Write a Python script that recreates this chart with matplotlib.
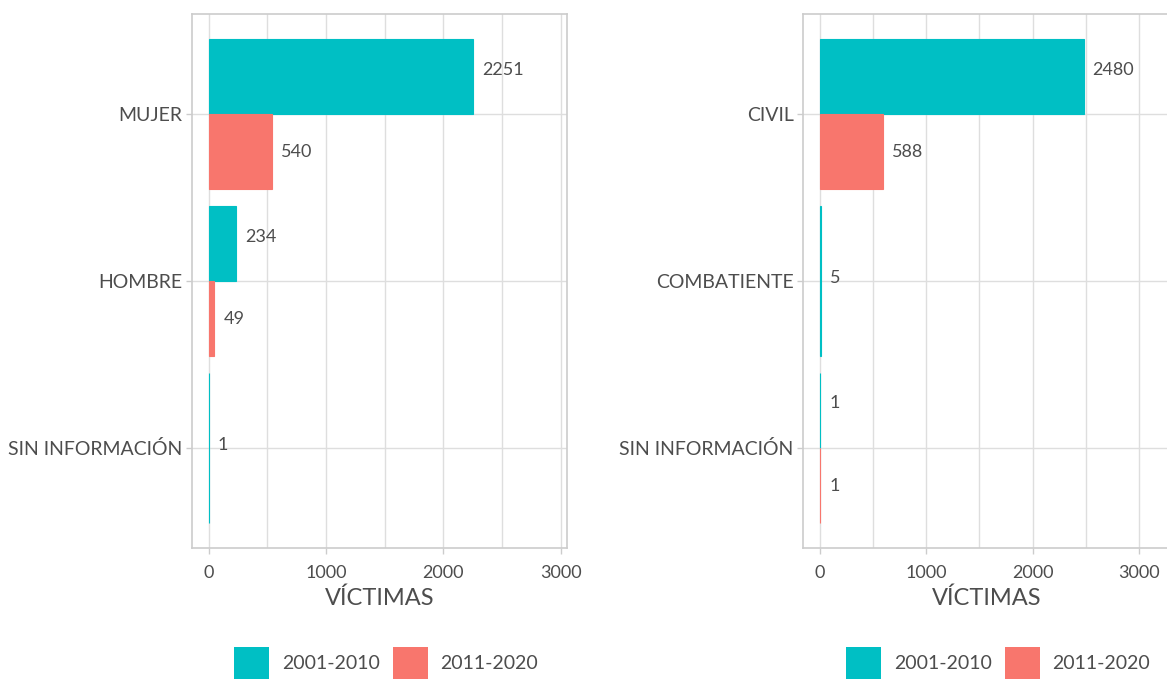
import matplotlib
matplotlib.use("Agg")
import matplotlib.pyplot as plt
from matplotlib.patches import Patch
from matplotlib.ticker import MultipleLocator

plt.rcParams['font.family'] = ['Lato', 'DejaVu Sans']

# Victims by sex and by condition, two decades
periods = ["2001-2010", "2011-2020"]
colors = ["#00BFC4", "#F8766D"]

sexo_cats = ["MUJER", "HOMBRE", "SIN INFORMACIÓN"]
sexo_2001 = [2251, 234, 1]
sexo_2011 = [540, 49, None]

cond_cats = ["CIVIL", "COMBATIENTE", "SIN INFORMACIÓN"]
cond_2001 = [2480, 5, 1]
cond_2011 = [588, None, 1]

TEXT = "#4D4D4D"
GRID = "#DEDEDE"
BORDER = "#CCCCCC"

W, H = 1167, 679
fig = plt.figure(figsize=(W / 100, H / 100), dpi=100)


def panel(rect, cats, s1, s2, xlim):
    ax = fig.add_axes(rect)
    n = len(cats)
    ypos = [n - i for i in range(n)]
    for y, a, b in zip(ypos, s1, s2):
        series = [(v, c) for v, c in zip((a, b), colors) if v is not None]
        k = len(series)
        width = 0.9 / k
        for j, (v, c) in enumerate(series):
            yc = y + 0.45 - width * (j + 0.5)
            # thin outline in the fill colour keeps tiny values visible
            ax.barh(yc, v, height=width, color=c, edgecolor=c, linewidth=0.8, zorder=3)
            if k == 2:
                dy = 5 if j == 0 else -0.5
            else:
                dy = 2
            ax.annotate(str(v), (v, yc), xytext=(6.5, dy), textcoords="offset points",
                        ha="left", va="center", fontsize=13, color=TEXT, zorder=4)
    ax.set_xlim(*xlim)
    ax.set_ylim(0.4, n + 0.6)
    ax.set_yticks(ypos)
    ax.set_yticklabels(cats, va="center_baseline")
    ax.xaxis.set_major_locator(MultipleLocator(1000))
    ax.xaxis.set_minor_locator(MultipleLocator(500))
    ax.grid(True, which="major", color=GRID, lw=1.0, zorder=0)
    ax.grid(True, which="minor", axis="x", color=GRID, lw=1.0, zorder=0)
    ax.set_axisbelow(True)
    for s in ax.spines.values():
        s.set_color(BORDER)
        s.set_linewidth(1.2)
    ax.tick_params(which="major", colors=BORDER, labelcolor=TEXT, length=4, width=1)
    ax.tick_params(axis="y", labelsize=14, pad=3)
    ax.tick_params(axis="x", labelsize=13, pad=8)
    ax.tick_params(which="minor", length=0)
    ax.set_xlabel("VÍCTIMAS", fontsize=17, color=TEXT, labelpad=5)
    return ax


top = 1 - 14 / H
bottom = 1 - 548 / H
left_ax = panel([191.7 / W, bottom, (567.3 - 191.7) / W, top - bottom],
                sexo_cats, sexo_2001, sexo_2011, (-145, 3056))
right_ax = panel([803.3 / W, bottom, (1170 - 803.3) / W, top - bottom],
                 cond_cats, cond_2001, cond_2011, (-157, 3292))

handles = [Patch(facecolor=c, edgecolor="none") for c in colors]
for cx in (386 / W, 998 / W):
    fig.legend(handles, periods, loc="center", bbox_to_anchor=(cx, 1 - 663 / H),
               ncol=2, frameon=False, fontsize=14, labelcolor=TEXT,
               handlelength=1.8, handleheight=2.1, handletextpad=0.67,
               columnspacing=0.67)

fig.savefig("out.png", dpi=100)
